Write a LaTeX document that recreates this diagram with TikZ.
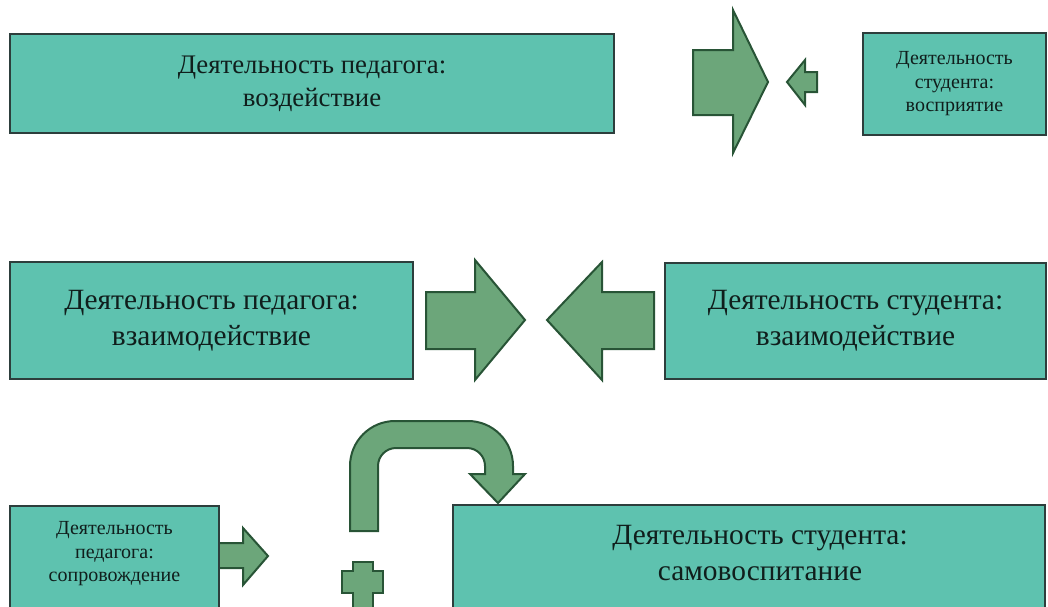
\documentclass[tikz,border=0pt]{standalone}
\usepackage{fontspec}
\setmainfont{Liberation Serif}
\definecolor{boxfill}{RGB}{94,194,175}
\definecolor{boxline}{RGB}{45,62,60}
\definecolor{arrfill}{RGB}{108,166,122}
\definecolor{arrline}{RGB}{40,84,54}
\definecolor{txt}{RGB}{16,30,28}

\begin{document}
\begin{tikzpicture}[x=1pt, y=-1pt,
    box/.style={draw=boxline, line width=1.8pt, fill=boxfill, inner sep=0pt, align=center, text=txt},
    big/.style={font=\fontsize{29.4}{36}\selectfont},
    mid/.style={font=\fontsize{26.8}{33}\selectfont},
    small/.style={font=\fontsize{20}{23.5}\selectfont},
    arr/.style={draw=arrline, line width=2pt, fill=arrfill, line join=miter}]
    \useasboundingbox (0,0) rectangle (1048,606);

    % top row
    \node[box, mid, minimum width=604, minimum height=99] (ped1) at (312,83.5)
        {Деятельность педагога:\\воздействие};
    \node[box, small, minimum width=183, minimum height=102] (stud1) at (954.5,84)
        {Деятельность\\студента:\\восприятие};
    \draw[arr] (693,50) -- (733,50) -- (733,10) -- (768,82) -- (733,153) -- (733,115) -- (693,115) -- cycle;
    \draw[arr] (817,72) -- (805,72) -- (805,60) -- (787,82) -- (805,105) -- (805,92) -- (817,92) -- cycle;

    % middle row
    \node[box, big, minimum width=403, minimum height=117] (ped2) at (211.5,320.5)
        {Деятельность педагога:\\взаимодействие};
    \node[box, big, minimum width=381, minimum height=116] (stud2) at (855.5,321)
        {Деятельность студента:\\взаимодействие};
    \draw[arr] (426,292) -- (475,292) -- (475,260) -- (525,320) -- (475,380) -- (475,349) -- (426,349) -- cycle;
    \draw[arr] (654,292) -- (602,292) -- (602,262) -- (547,320) -- (602,380) -- (602,349) -- (654,349) -- cycle;

    % bottom row
    \draw[arr] (215,543) -- (243,543) -- (243,528) -- (268,556) -- (243,585) -- (243,568) -- (215,568) -- cycle;
    \node[box, minimum width=209, minimum height=120, anchor=north] (ped3) at (114.5,505) {};
    \node[small, text=txt, align=center] (ped3t) at (114.5,554) {Деятельность\\педагога:\\сопровождение};
    \node[box, minimum width=592, minimum height=120, anchor=north] (stud3) at (749,504) {};
    \node[big, text=txt, align=center] (stud3t) at (760,553) {Деятельность студента:\\самовоспитание};
    \draw[arr] (350,531) -- (350,466) arc (180:270:45) -- (468,421) arc (270:360:45)
        -- (513,474) -- (525,474) -- (498,503) -- (470,474) -- (485,474) -- (485,466)
        arc (0:-90:18) -- (396,448) arc (-90:-180:18) -- (378,531) -- cycle;
    \draw[arr] (353,562) -- (373,562) -- (373,571) -- (383,571) -- (383,593) -- (373,593) -- (373,615)
        -- (353,615) -- (353,593) -- (342,593) -- (342,571) -- (353,571) -- cycle;
\end{tikzpicture}
\end{document}
